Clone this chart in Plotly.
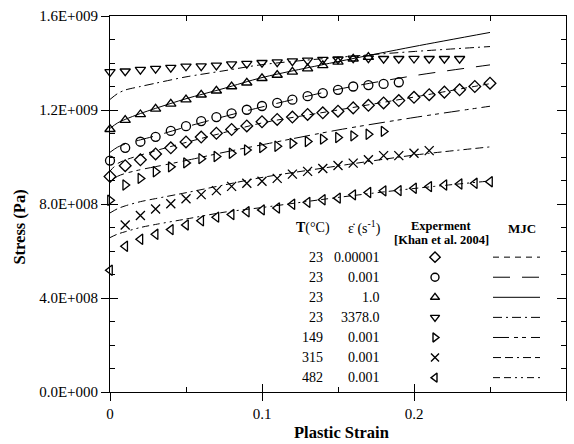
import plotly.graph_objects as go

# ---------------- data ----------------
strain_exp = [round(0.01 * i, 2) for i in range(26)]

exp_23_00001 = [917, 963, 988, 1013, 1039, 1064, 1085, 1101, 1117, 1132, 1150, 1160, 1170,
                1181, 1188, 1195, 1209, 1220, 1230, 1240, 1254, 1265, 1276, 1286, 1300, 1314]
exp_23_0001 = [985, 1039, 1065, 1086, 1111, 1131, 1153, 1170, 1186, 1201, 1217, 1230, 1244,
               1259, 1272, 1286, 1300, 1306, 1311, 1318]
exp_23_1 = [1118, 1157, 1181, 1205, 1226, 1244, 1265, 1282, 1300, 1316, 1335, 1349, 1362,
            1376, 1390, 1405, 1418, 1425]
exp_23_3378 = [1362, 1365, 1372, 1376, 1380, 1386, 1387, 1390, 1395, 1397, 1401, 1404, 1408,
               1411, 1414, 1416, 1420, 1421, 1418, 1418, 1419, 1418, 1418, 1418]
exp_149 = [816, 881, 909, 937, 958, 975, 993, 1002, 1016, 1030, 1040, 1046, 1058, 1066, 1076,
           1083, 1090, 1097, 1109]
strain_exp_315 = [round(0.01 * i, 2) for i in range(1, 22)]
exp_315 = [711, 751, 779, 801, 822, 840, 857, 875, 888, 897, 909, 927, 939, 951, 964, 974, 988,
           1006, 1006, 1016, 1027]
exp_482 = [518, 620, 650, 671, 691, 711, 729, 744, 755, 767, 775, 783, 799, 807, 818, 825, 839,
           849, 856, 857, 867, 874, 881, 885, 888, 895]

strain_mjc = [0, 0.005, 0.01, 0.02, 0.03, 0.05, 0.075, 0.1, 0.15, 0.2, 0.25]
mjc_23_00001 = [940, 972, 987, 1008, 1027, 1062, 1104, 1145, 1200, 1255, 1312]
mjc_23_0001 = [1020, 1042, 1055, 1073, 1090, 1128, 1172, 1213, 1288, 1346, 1392]
mjc_23_1 = [1122, 1145, 1160, 1185, 1207, 1248, 1292, 1338, 1406, 1470, 1530]
mjc_23_3378 = [1245, 1270, 1285, 1300, 1314, 1341, 1367, 1393, 1424, 1449, 1470]
mjc_149 = [895, 918, 930, 946, 959, 985, 1020, 1052, 1115, 1168, 1216]
mjc_315 = [762, 780, 792, 810, 823, 848, 881, 913, 962, 1008, 1043]
mjc_482 = [657, 672, 682, 700, 713, 736, 765, 785, 828, 866, 898]

temps = ["23", "23", "23", "23", "149", "315", "482"]
rates = ["0.00001", "0.001", "1.0", "3378.0", "0.001", "0.001", "0.001"]

y_tickvals = [0, 4e8, 8e8, 1.2e9, 1.6e9]
y_ticktext = ["0.0E+000", "4.0E+008", "8.0E+008", "1.2E+009", "1.6E+009"]
x_tickvals = [0, 0.1, 0.2, 0.3]
x_ticktext = ["0", "0.1", "0.2", "0.3"]

# ---------------- styles ----------------
symbols = ["diamond-open", "circle-open", "triangle-up-open", "triangle-down-open",
           "triangle-right-open", "x-thin-open", "triangle-left-open"]
dashes = ["6px,5px", "17px,12px", "solid", "9px,4px,2px,4px",
          "16px,5px,4px,4px,4px,5px", "8px,4px,8px,4px,2px,4px",
          "7px,4px,7px,4px,2px,4px,2px,4px"]

exp_sets = [(strain_exp, exp_23_00001), (strain_exp, exp_23_0001), (strain_exp, exp_23_1),
            (strain_exp, exp_23_3378), (strain_exp, exp_149), (strain_exp_315, exp_315),
            (strain_exp, exp_482)]
mjc_sets = [mjc_23_00001, mjc_23_0001, mjc_23_1, mjc_23_3378, mjc_149, mjc_315, mjc_482]

FONT = "Liberation Serif"
XMAX, YMAX = 0.3, 1.6e9
L, R, T, B = 110, 8, 10, 52
W, H = 574, 444
PW, PH = W - L - R, H - T - B


def paper(px, py):
    return (px - L) / PW, (T + PH - py) / PH


def data(px, py):
    fx, fy = paper(px, py)
    return fx * XMAX, fy * YMAX


fig = go.Figure()

for i in range(7):
    fig.add_trace(go.Scatter(
        x=strain_mjc, y=[v * 1e6 for v in mjc_sets[i]], mode="lines",
        line=dict(color="black", width=1, dash=dashes[i], shape="spline", smoothing=0.8),
        showlegend=False, hoverinfo="skip"))

for i, (xs, ys) in enumerate(exp_sets):
    fig.add_trace(go.Scatter(
        x=xs, y=[v * 1e6 for v in ys], mode="markers", cliponaxis=False,
        marker=dict(symbol=symbols[i], size=9, color="black",
                    line=dict(color="black", width=1.3)),
        showlegend=False, hoverinfo="skip"))

# ---------------- legend table ----------------
row_y = [255 + 20.4 * i for i in range(7)]
annotations = []
for i in range(7):
    fx, fy = paper(325, row_y[i])
    annotations.append(dict(x=fx, y=fy, text=temps[i], xanchor="right", align="right",
                            yanchor="middle"))
    fx, fy = paper(382, row_y[i])
    annotations.append(dict(x=fx, y=fy, text=rates[i], xanchor="right", align="right",
                            yanchor="middle"))
    mx, my = data(435, row_y[i])
    fig.add_trace(go.Scatter(
        x=[mx], y=[my], mode="markers", cliponaxis=False,
        marker=dict(symbol=symbols[i], size=8, color="black",
                    line=dict(color="black", width=1.4)),
        showlegend=False, hoverinfo="skip"))
    x0, y0 = data(493, row_y[i])
    x1, _ = data(540, row_y[i])
    fig.add_trace(go.Scatter(
        x=[x0, x1], y=[y0, y0], mode="lines", cliponaxis=False,
        line=dict(color="black", width=1, dash=dashes[i]),
        showlegend=False, hoverinfo="skip"))

hdr = [
    (313, 225, "<b>T</b>(°C)", 14),
    (364, 225, "ε̇ (s<sup>-1</sup>)", 14),
    (441, 223, "<b>Experment</b>", 12.5),
    (441, 238, "<b>[Khan et al. 2004]</b>", 12.5),
    (522, 226, "<b>MJC</b>", 13),
]
for px, py, txt, sz in hdr:
    fx, fy = paper(px, py)
    annotations.append(dict(x=fx, y=fy, text=txt, xanchor="center", yanchor="middle",
                            font=dict(size=sz)))

fx, fy = paper(341, 433)
annotations.append(dict(x=fx, y=fy, text="<b>Plastic Strain</b>", xanchor="center",
                        yanchor="middle", font=dict(size=16.5)))
fx, fy = paper(20, 225)
annotations.append(dict(x=fx, y=fy, text="<b>Stress (Pa)</b>", xanchor="center",
                        yanchor="middle", textangle=-90, font=dict(size=16.5)))

for a in annotations:
    a.update(xref="paper", yref="paper", showarrow=False)
    a.setdefault("font", {})
    a["font"] = dict(family=FONT, color="black", size=a["font"].get("size", 14))

# dummy traces so overlay axes render
for xa, ya in [("x2", "y"), ("x3", "y"), ("x", "y2"), ("x", "y3")]:
    fig.add_trace(go.Scatter(x=[0], y=[0], xaxis=xa, yaxis=ya, mode="markers",
                             marker=dict(opacity=0), showlegend=False, hoverinfo="skip"))

axis_common = dict(showgrid=False, zeroline=False, linecolor="black", linewidth=1,
                   tickcolor="black", tickwidth=1)
tick_only = {k: v for k, v in axis_common.items() if k not in ("linecolor", "linewidth")}

fig.update_layout(
    width=W, height=H, margin=dict(l=L, r=R, t=T, b=B),
    paper_bgcolor="white", plot_bgcolor="white",
    font=dict(family=FONT, color="black", size=15),
    showlegend=False,
    annotations=annotations,
    xaxis=dict(range=[0, XMAX], tickvals=x_tickvals, ticktext=x_ticktext, ticks="outside",
               ticklen=8, showline=True, tickfont=dict(size=15, family=FONT),
               minor=dict(ticks="inside", tickvals=[0.05, 0.15, 0.25], ticklen=5,
                          tickcolor="black", tickwidth=1),
               **axis_common),
    xaxis2=dict(range=[0, XMAX], overlaying="x", anchor="y", side="bottom",
                tickvals=x_tickvals, ticks="inside", ticklen=8, showticklabels=False,
                showline=False, **tick_only),
    xaxis3=dict(range=[0, XMAX], overlaying="x", anchor="y", side="top",
                tickvals=[0.05 * i for i in range(7)], ticks="inside", ticklen=5,
                showticklabels=False, showline=True, **axis_common),
    yaxis=dict(range=[0, YMAX], tickvals=y_tickvals, ticktext=y_ticktext, ticks="outside",
               ticklen=8, showline=True, tickfont=dict(size=15, family=FONT),
               minor=dict(ticks="inside", tickvals=[1e8 * i for i in range(17) if i % 4],
                          ticklen=5, tickcolor="black", tickwidth=1),
               **axis_common),
    yaxis2=dict(range=[0, YMAX], overlaying="y", anchor="x", side="left",
                tickvals=y_tickvals, ticks="inside", ticklen=8, showticklabels=False,
                showline=False, **tick_only),
    yaxis3=dict(range=[0, YMAX], overlaying="y", anchor="x", side="right",
                tickvals=y_tickvals, ticks="inside", ticklen=9, showticklabels=False,
                showline=True,
                minor=dict(ticks="inside", tickvals=[1e8 * i for i in range(17) if i % 4],
                           ticklen=5, tickcolor="black", tickwidth=1),
                **axis_common),
)

fig.write_html("out.html")
